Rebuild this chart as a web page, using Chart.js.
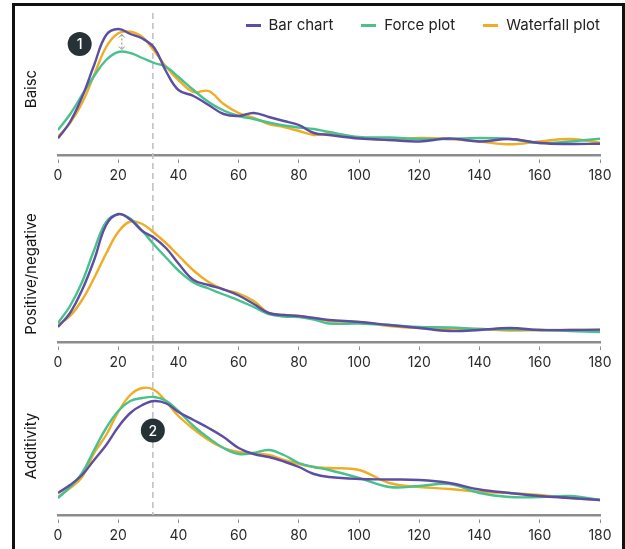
<!DOCTYPE html>
<html>
<head>
  <meta charset="UTF-8">
  <title>Distribution by chart type</title>
  <script src="https://cdn.jsdelivr.net/npm/chart.js@4.4.1/dist/chart.umd.min.js"></script>
  <style>
    body { margin: 0; background: #fff; width: 625px; height: 549px; overflow: hidden; position: relative; font-family: Inter, sans-serif; }
    #frame { position: absolute; left: 12px; top: 3px; width: 613px; height: 600px; border: 3px solid #111; box-sizing: border-box; }
    canvas { position: absolute; left: 15px; }
    #legend { position: absolute; right: 25px; top: 16px; display: flex; align-items: center; gap: 28px; font-size: 15px; color: #222; line-height: 18px; }
    #legend .item { display: flex; align-items: center; }
    #legend .mark { width: 15px; height: 3px; margin-right: 8px; }
  </style>
</head>
<body>
  <div id="frame"></div>
  <canvas id="basic" width="605" height="177" style="top:8px"></canvas>
  <canvas id="posneg" width="605" height="187" style="top:185px"></canvas>
  <canvas id="additivity" width="605" height="173" style="top:372px"></canvas>
  <div id="legend"></div>

  <script>
    // x positions of the density samples
    const xs = [0, 4, 8, 12, 16, 20, 24, 28, 32, 36, 40, 45, 50, 55, 60, 65, 70, 75, 80, 85, 90, 100, 110, 120, 130, 140, 150, 160, 170, 180];

    const seriesNames = ["Bar chart", "Force plot", "Waterfall plot"];
    const seriesColors = ["#5c4ea3", "#48c18c", "#f0ac25"];

    // Basic
    const barBasic = [16.7, 33, 58, 90, 120, 126, 121, 116.5, 107, 83, 65, 59, 50, 41, 39, 42, 38, 34, 30, 22, 20, 16.5, 15, 13.5, 16.5, 13.5, 16, 12, 11, 11.3];
    const forceBasic = [25, 40.7, 60, 79, 95, 103, 102, 97, 92, 88, 78, 65, 53, 44.5, 39, 36, 32.5, 29.5, 27.5, 26, 23, 18, 17.5, 16, 16, 17, 16, 12, 13.5, 16.3];
    const waterfallBasic = [18.3, 32, 52, 80, 108, 121.7, 123.3, 118, 104, 88, 75, 63, 64, 51, 42, 37, 31, 28, 24, 20, 21.5, 17.5, 15, 17, 16, 13.5, 10.7, 13.5, 16, 12.3];

    // Positive/negative
    const barPosNeg = [15, 29, 52, 82, 117, 128, 122.5, 111, 104, 93.5, 78.5, 62, 57, 52.5, 46.5, 38, 29, 27, 26, 24, 22, 20, 17, 14, 11, 12, 14, 12, 12, 12.4];
    const forcePosNeg = [19, 36, 60, 92, 120, 127.5, 123.5, 111, 97, 84, 71.5, 59.5, 53.5, 47.5, 41.7, 35, 28, 25.5, 25, 22.5, 18.5, 18.5, 17, 15, 14.5, 13, 12.5, 12, 11, 10];
    const waterfallPosNeg = [17, 26, 42, 64, 88.5, 110, 120.5, 118, 109, 98.5, 86.5, 71.5, 60, 52.5, 48.5, 41, 29, 27, 26, 24, 21, 20, 16, 14, 13, 13, 11.5, 12, 12, 12];

    // Additivity
    const barAdd = [22, 30, 40, 55, 70, 88, 102, 110, 114, 111.5, 103, 95, 87, 78, 67, 61, 58, 53.5, 48, 41, 38, 36, 35.5, 35, 32, 25.5, 22, 19, 17, 15];
    const forceAdd = [17, 28, 42, 65, 87, 104, 114, 117, 118, 114, 104, 89, 77, 67, 61, 62, 65, 60, 52, 48, 45, 37, 28, 29, 31, 22, 18, 18, 19, 15];
    const waterfallAdd = [18, 27, 38, 62, 80, 103, 120, 127, 125, 113, 99, 86, 75, 67, 63, 62, 60, 55, 51, 48, 47, 45, 32, 28, 26, 23, 22, 20, 17, 15];

    const xTicks = { min: 0, max: 180, step: 20 };
    const cutValue = 31.5; // dashed reference line

    Chart.defaults.font.family = "Inter, 'Noto Sans', sans-serif";

    // vertical dashed line, numbered badges and the dotted gap arrow
    const marks = {
      id: "marks",
      beforeDatasetsDraw(chart, args, o) {
        const { ctx, chartArea, scales: { x } } = chart;
        const px = x.getPixelForValue(cutValue);
        ctx.save();
        ctx.strokeStyle = "#c2c2c2";
        ctx.lineWidth = 1.6;
        ctx.setLineDash([6, 4]);
        ctx.beginPath();
        ctx.moveTo(px, o.startY !== undefined ? o.startY : 0);
        ctx.lineTo(px, o.toAxis ? chartArea.bottom : chart.height);
        ctx.stroke();
        ctx.restore();
      },
      afterDatasetsDraw(chart, args, o) {
        const { ctx, scales: { x, y } } = chart;
        if (o.arrow) {
          const ax = x.getPixelForValue(o.arrow[0]);
          const y1 = y.getPixelForValue(o.arrow[1]);
          const y2 = y.getPixelForValue(o.arrow[2]);
          ctx.save();
          ctx.strokeStyle = "#8a8a8a";
          ctx.lineWidth = 1;
          ctx.setLineDash([2, 2]);
          ctx.beginPath();
          ctx.moveTo(ax, y1 + 1);
          ctx.lineTo(ax, y2 - 1);
          ctx.stroke();
          ctx.setLineDash([]);
          ctx.beginPath();
          ctx.moveTo(ax - 3, y1 + 4); ctx.lineTo(ax, y1 + 1); ctx.lineTo(ax + 3, y1 + 4);
          ctx.moveTo(ax - 3, y2 - 4); ctx.lineTo(ax, y2 - 1); ctx.lineTo(ax + 3, y2 - 4);
          ctx.stroke();
          ctx.restore();
        }
        if (o.badge) {
          const bx = x.getPixelForValue(o.badge[0]);
          const by = y.getPixelForValue(o.badge[1]);
          ctx.save();
          ctx.fillStyle = "#273236";
          ctx.beginPath();
          ctx.arc(bx, by, 12, 0, Math.PI * 2);
          ctx.fill();
          ctx.fillStyle = "#fff";
          ctx.font = "500 14px Inter";
          ctx.textAlign = "center";
          ctx.textBaseline = "middle";
          ctx.fillText(o.badge[2], bx, by + 1);
          ctx.restore();
        }
      }
    };

    // html legend built from the first chart's datasets
    const htmlLegend = {
      id: "htmlLegend",
      afterUpdate(chart) {
        const box = document.getElementById("legend");
        box.innerHTML = "";
        chart.data.datasets.forEach(ds => {
          const item = document.createElement("span");
          item.className = "item";
          const mark = document.createElement("span");
          mark.className = "mark";
          mark.style.background = ds.borderColor;
          const txt = document.createElement("span");
          txt.textContent = ds.label;
          item.appendChild(mark);
          item.appendChild(txt);
          box.appendChild(item);
        });
      }
    };

    function makeChart(id, title, series, yMax, padTop, markOpts, withLegend) {
      return new Chart(document.getElementById(id), {
        type: "line",
        data: {
          datasets: series.map((vals, i) => ({
            label: seriesNames[i],
            data: xs.map((x, j) => ({ x: x, y: vals[j] })),
            borderColor: seriesColors[i],
            borderWidth: 2.4,
            pointRadius: 0,
            tension: 0.4,
            fill: false
          }))
        },
        options: {
          responsive: false,
          animation: false,
          events: [],
          layout: { padding: { top: padTop, right: 20, bottom: 0, left: 0 } },
          plugins: {
            legend: { display: false },
            tooltip: { enabled: false },
            marks: markOpts
          },
          scales: {
            x: {
              type: "linear",
              min: xTicks.min,
              max: xTicks.max,
              afterFit: s => { s.height = 30; },
              ticks: { stepSize: xTicks.step, color: "#2a2a2a", font: { size: 14 }, padding: 4, maxRotation: 0 },
              grid: { drawOnChartArea: false, drawTicks: true, tickLength: 8, tickColor: "#8c8c8c", tickWidth: 1, tickBorderDash: [0, 3, 5, 20] },
              border: { color: "#8c8c8c", width: 2.5 }
            },
            y: {
              min: 0,
              max: yMax,
              afterFit: s => { s.width = 43; },
              ticks: { display: false },
              grid: { display: false, drawTicks: false },
              border: { display: false },
              title: { display: true, text: title, color: "#151515", font: { size: 15 }, padding: { top: 7, bottom: 18 } }
            }
          }
        },
        plugins: withLegend ? [marks, htmlLegend] : [marks]
      });
    }

    makeChart("basic", "Baisc", [barBasic, forceBasic, waterfallBasic], 132, 15,
      { startY: 5, toAxis: false, badge: [7.2, 111, "1"], arrow: [21.2, 121.5, 104.5] }, true);
    makeChart("posneg", "Positive/negative", [barPosNeg, forcePosNeg, waterfallPosNeg], 136, 21,
      { toAxis: false });
    makeChart("additivity", "Additivity", [barAdd, forceAdd, waterfallAdd], 138, 5,
      { toAxis: true, badge: [cutValue, 84.5, "2"] });
  </script>
</body>
</html>
